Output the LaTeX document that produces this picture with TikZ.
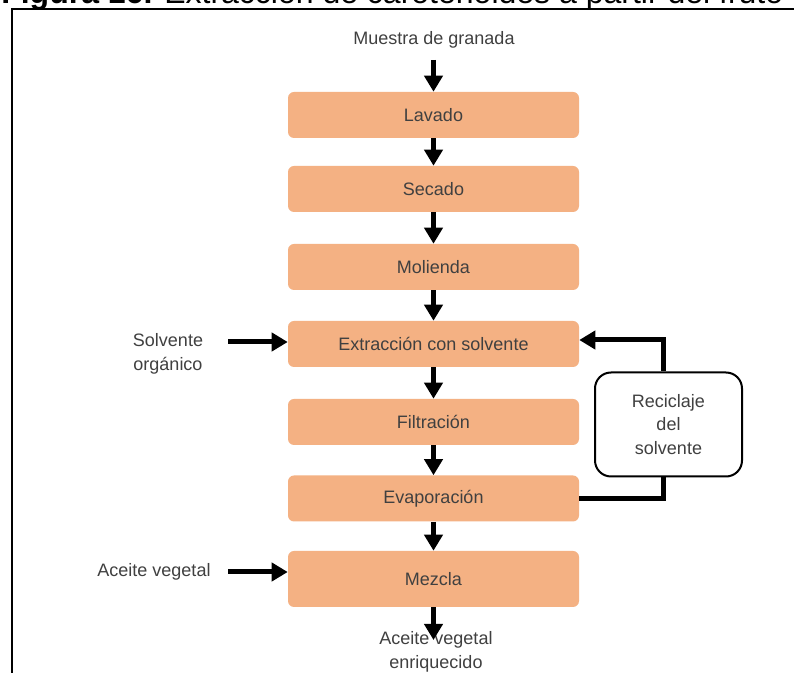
\documentclass[tikz,border=0pt]{standalone}
\usepackage{fontspec}
\setmainfont{Liberation Sans}
\usetikzlibrary{arrows.meta}
\definecolor{boxfill}{HTML}{F4B183}
\definecolor{txt}{HTML}{404040}
\begin{document}
\begin{tikzpicture}[x=0.75pt,y=-0.75pt,
  every node/.style={font=\fontsize{13.5pt}{17.5pt}\selectfont, text=txt},
  stepbox/.style={fill=boxfill, rounded corners=4.5pt, minimum width=218.25pt,
    minimum height=34.5pt, inner sep=0pt},
  recbox/.style={draw=black, line width=1.5pt, fill=white, rounded corners=12pt,
    minimum width=110.25pt, minimum height=78pt, align=center, inner sep=0pt},
  flow/.style={line width=3.75pt, -{Triangle[width=13.5pt,length=12pt]}},
  link/.style={line width=3.75pt},
  plain/.style={align=center, inner sep=0pt}]
\useasboundingbox (0,0) rectangle (794,673);
\clip (0,0) rectangle (794,673);
% caption above the frame
\node[anchor=base west, inner sep=0pt, font=\fontsize{24pt}{28pt}\selectfont,
  text=black] (title) at (1,4)
  {\textbf{Figura 16.} Extracción de carotenoides a partir del fruto};
% frame
\draw[line width=1.5pt, fill=white] (12,9) rectangle (820,700);
% process steps
\node[plain] (src) at (434,40) {Muestra de granada};
\node[stepbox] (lav) at (433.5,115) {Lavado};
\node[stepbox] (sec) at (433.5,189) {Secado};
\node[stepbox] (mol) at (433.5,267) {Molienda};
\node[stepbox] (ext) at (433.5,344) {Extracción con solvente};
\node[stepbox] (fil) at (433.5,422) {Filtración};
\node[stepbox] (evap) at (433.5,498.5) {Evaporación};
\node[stepbox, minimum height=42pt] (mez) at (433.5,579) {Mezcla};
% inputs and output
\node[plain] (solv) at (168,354) {Solvente\\orgánico};
\node[plain] (oil) at (154,572) {Aceite vegetal};
\node[plain] (prod) at (436,652) {Aceite vegetal\\enriquecido};
% solvent recycling
\node[recbox] (rec) at (668.5,424.5) {Reciclaje\\del\\solvente};
% connectors
\coordinate (srcout) at (433.5,60);
\coordinate (solvout) at (228,342);
\coordinate (oilout) at (228,572);
\coordinate (prodin) at (433.5,640);
\draw[flow] (srcout) -- (lav);
\draw[flow] (lav) -- (sec);
\draw[flow] (sec) -- (mol);
\draw[flow] (mol) -- (ext);
\draw[flow] (ext) -- (fil);
\draw[flow] (fil) -- (evap);
\draw[flow] (evap) -- (mez);
\draw[flow] (mez) -- (prodin);
\draw[flow] (solvout) -- (solvout -| ext.west);
\draw[flow] (oilout) -- (oilout -| mez.west);
\draw[flow] ([xshift=-3.4pt]rec.north) |- ([yshift=3pt]ext.east);
\draw[link] ([xshift=-3.4pt]rec.south) |- (evap.east);
\end{tikzpicture}
\end{document}
